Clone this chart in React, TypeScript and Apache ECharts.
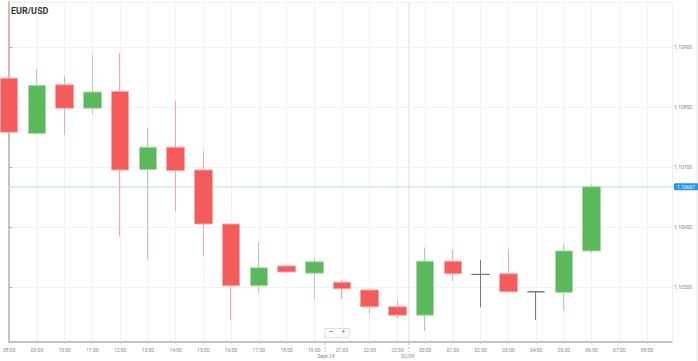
import React, { useEffect, useRef } from "react";
import * as echarts from "echarts";

const hourLabels = [
  "08:00", "09:00", "10:00", "11:00", "12:00", "13:00", "14:00", "15:00",
  "16:00", "17:00", "18:00", "19:00", "21:00", "22:00", "23:00", "00:00",
  "01:00", "02:00", "03:00", "04:00", "05:00", "06:00", "07:00", "08:00",
];
const opens = [
  1.10848, 1.10756, 1.10837, 1.10798, 1.10826, 1.10696, 1.10733, 1.10695,
  1.10605, 1.10502, 1.10535, 1.10523, 1.10508, 1.10495, 1.10467, 1.10453,
  1.10543, 1.10521, 1.10522, 1.10492, 1.10491, 1.1056,
];
const closes = [
  1.10758, 1.10836, 1.10798, 1.10825, 1.10695, 1.10733, 1.10694, 1.10605,
  1.10502, 1.10532, 1.10525, 1.10542, 1.10497, 1.10467, 1.10453, 1.10543,
  1.10522, 1.10521, 1.10492, 1.10492, 1.1056, 1.10667,
];
const lows = [
  1.10745, 1.10753, 1.10753, 1.10788, 1.10584, 1.10545, 1.10626, 1.10552,
  1.10445, 1.1049, 1.10523, 1.1048, 1.1048, 1.10455, 1.10448, 1.10427,
  1.1051, 1.10466, 1.10492, 1.10445, 1.10461, 1.10557,
];
const highs = [
  1.10962, 1.10863, 1.10851, 1.10887, 1.1089, 1.10765, 1.1081, 1.10727,
  1.10605, 1.10575, 1.10538, 1.1055, 1.10512, 1.10498, 1.10478, 1.10566,
  1.10563, 1.10545, 1.10563, 1.10492, 1.10572, 1.10672,
];
const currentPrice = 1.10667;
const dayLabels = ["Sept 24", "02/09"];

export default function App() {
  const ref = useRef<HTMLDivElement>(null);
  useEffect(() => {
    if (!ref.current) return;
    const chart = echarts.init(ref.current, undefined, { renderer: "svg" });
    const data = opens.map((o, i) => [i, o, closes[i], lows[i], highs[i]]);
    const fontFamily = "Roboto, sans-serif";
    const xMax = 23.9;
    chart.setOption({
      animation: false,
      textStyle: { fontFamily },
      grid: { left: 4, right: 26, top: 2, bottom: 19 },
      xAxis: {
        type: "value",
        min: 0,
        max: xMax,
        interval: 1,
        axisLine: { show: true, lineStyle: { color: "#b0b0b0", width: 1.5 } },
        axisTick: { show: true, length: 2, lineStyle: { color: "#ccc" } },
        axisLabel: {
          fontSize: 5,
          color: "#888",
          margin: 5,
          showMaxLabel: false,
          alignMinLabel: "center",
          formatter: (v: number) =>
            Number.isInteger(v) && hourLabels[v] !== undefined ? hourLabels[v] : "",
        },
        splitLine: { show: true, lineStyle: { color: "#f1f1f1", width: 1 } },
      },
      yAxis: {
        type: "value",
        position: "right",
        min: 1.1040833,
        max: 1.10975,
        splitNumber: 5,
        scale: true,
        axisLine: { show: true, lineStyle: { color: "#b0b0b0", width: 1.5 } },
        axisTick: { show: true, length: 3, lineStyle: { color: "#aaa" } },
        axisLabel: {
          fontSize: 5,
          color: "#888",
          margin: 2,
          showMinLabel: false,
          showMaxLabel: false,
          formatter: (v: number) => {
            const k = Math.round(v * 1000);
            return Math.abs(v * 1000 - k) < 1e-6 ? v.toFixed(5) : "";
          },
        },
        splitLine: { show: true, lineStyle: { color: "#f1f1f1", width: 1 } },
      },
      series: [
        {
          type: "line",
          data: [[-0.2, currentPrice], [xMax, currentPrice]],
          symbol: "none",
          silent: true,
          clip: false,
          z: 1,
          lineStyle: { color: "#c5e3f8", width: 1.2 },
          endLabel: {
            show: true,
            distance: 2,
            formatter: () => currentPrice.toFixed(5),
            fontSize: 5,
            color: "#fff",
            backgroundColor: "#2196f3",
            padding: [1, 3],
            borderRadius: 1,
          },
        },
        {
          type: "candlestick",
          data,
          encode: { x: 0, y: [1, 2, 3, 4] },
          barWidth: 18,
          clip: false,
          z: 3,
          itemStyle: {
            color: "#5cb85c",
            color0: "#f45b5b",
            borderColor: "#a8d8a8",
            borderColor0: "#f8a5a5",
            borderColorDoji: "#777",
            borderWidth: 1,
          },
        },
      ],
      graphic: [
        {
          type: "text",
          left: 11,
          top: 6,
          style: { text: "EUR/USD", fontSize: 9, fontWeight: "bold", fill: "#333", fontFamily },
        },
        {
          type: "line",
          shape: { x1: 409, y1: 2, x2: 409, y2: 342 },
          style: { stroke: "#dcdcdc", lineWidth: 1 },
        },
        {
          type: "line",
          shape: { x1: 325, y1: 343, x2: 325, y2: 352 },
          style: { stroke: "#bbb", lineWidth: 1, lineDash: [2, 2] },
        },
        {
          type: "line",
          shape: { x1: 409, y1: 343, x2: 409, y2: 352 },
          style: { stroke: "#bbb", lineWidth: 1, lineDash: [2, 2] },
        },
        {
          type: "text",
          x: 326,
          y: 353,
          style: { text: dayLabels[0], fontSize: 5, fill: "#888", align: "center", fontFamily },
        },
        {
          type: "text",
          x: 408,
          y: 353,
          style: { text: dayLabels[1], fontSize: 5, fill: "#888", align: "center", fontFamily },
        },
        {
          type: "rect",
          shape: { x: 325, y: 328.5, width: 24, height: 9 },
          style: { fill: "#fff", stroke: "#ddd", lineWidth: 1 },
        },
        {
          type: "text",
          x: 331,
          y: 327.5,
          style: { text: "−", fontSize: 8, fill: "#444", align: "center", fontFamily },
        },
        {
          type: "text",
          x: 343,
          y: 327.5,
          style: { text: "+", fontSize: 8, fill: "#444", align: "center", fontFamily },
        },
        {
          type: "line",
          shape: { x1: 697, y1: 0, x2: 697, y2: 361 },
          style: { stroke: "#e6e6e6", lineWidth: 1 },
        },
      ],
    });
    return () => chart.dispose();
  }, []);
  return (
    <div
      ref={ref}
      style={{ position: "fixed", left: 0, top: 0, width: 698, height: 361, background: "#fff" }}
    />
  );
}
